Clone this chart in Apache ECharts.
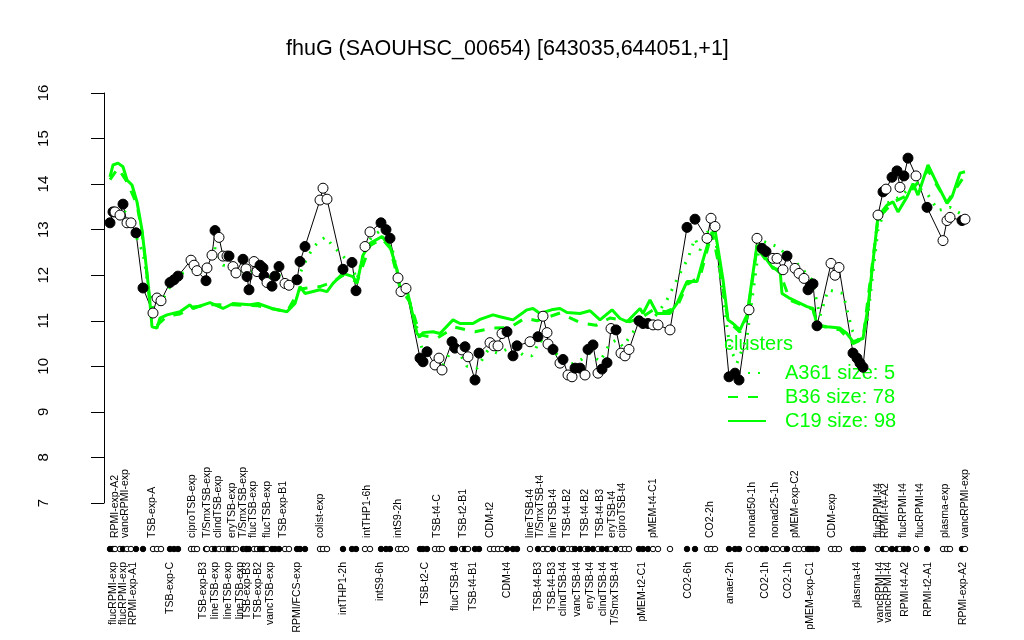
<!DOCTYPE html>
<html><head><meta charset="utf-8">
<script src="https://cdn.jsdelivr.net/npm/echarts@6/dist/echarts.min.js"></script>
<style>html,body{margin:0;padding:0;background:#fff}#c{width:1024px;height:640px}</style>
</head><body><div id="c"></div>
<script>
// sample positions (index units along the x axis), expression values, filled(1)/open(0)
const samplePos = [1.2,1.8,2.2,3.2,3.8,4.6,5.4,6.4,7.8,9.8,
10.6,11.4,13.2,14.0,14.8,17.4,18.0,18.6,20.4,20.6,
21.6,22.2,23.0,23.8,24.6,25.0,25.8,26.4,27.8,28.4,
28.6,29.0,30.0,30.6,31.2,31.8,32.0,32.6,33.6,34.2,
35.0,36.2,37.0,38.6,39.2,40.2,43.2,43.8,44.6,47.8,
49.6,50.4,52.2,53.2,55.4,56.4,57.2,58.8,59.4,60.4,
63.2,63.8,64.6,66.2,67.0,67.6,69.6,70.2,71.6,72.2,
72.8,74.2,75.0,77.2,78.0,78.8,79.6,80.6,81.8,82.6,
85.2,86.8,87.8,88.6,88.8,89.8,91.2,91.8,92.8,93.6,
94.2,95.2,96.2,96.8,97.8,98.8,99.6,100.6,101.4,102.4,
103.4,104.2,105.0,107.0,107.8,108.8,109.8,110.8,113.2,116.6,
118.2,120.6,121.4,122.2,125.0,126.2,127.0,129.0,130.6,131.6,
132.4,133.8,134.6,135.8,136.6,138.2,139.0,140.0,140.8,141.2,
141.8,142.6,145.4,146.2,147.0,149.8,150.6,151.2,151.8,154.8,
155.8,156.4,157.6,158.6,159.2,160.0,160.8,162.4,164.6,167.8,
168.6,169.2,171.6,172.2];
const sampleVal = [13.15,13.39,13.39,13.32,13.56,13.15,13.15,12.93,11.72,11.17,
11.5,11.44,11.84,11.9,11.98,12.33,12.22,12.1,11.88,12.16,
12.44,12.98,12.83,12.42,12.42,12.42,12.19,12.05,12.35,12.14,
11.97,11.68,12.3,12.08,12.22,12.16,11.98,11.84,11.76,11.98,
12.19,11.82,11.78,11.9,12.3,12.63,13.65,13.91,13.67,12.13,
12.28,11.66,12.63,12.95,13.15,13.0,12.81,11.94,11.64,11.71,
10.18,10.1,10.32,10.03,10.18,9.92,10.54,10.4,10.36,10.43,
10.21,9.7,10.29,10.52,10.45,10.45,10.72,10.76,10.23,10.45,
10.54,10.65,11.1,10.74,10.49,10.37,10.07,10.15,9.81,9.77,
9.96,9.96,9.81,10.37,10.47,9.85,9.94,10.08,10.83,10.8,
10.29,10.23,10.37,11.0,10.94,10.94,10.91,10.91,10.8,13.05,
13.23,12.81,13.25,13.07,9.77,9.85,9.7,11.24,12.81,12.59,
12.52,12.37,12.37,12.12,12.42,12.15,12.04,11.93,11.68,11.75,
11.81,10.89,12.26,12.0,12.17,10.29,10.18,10.07,9.98,13.32,
13.83,13.89,14.15,14.29,13.93,14.18,14.57,14.18,13.49,12.76,
13.2,13.27,13.2,13.23];
const sampleFilled = [1,1,0,0,1,0,0,1,1,0,
0,0,1,1,1,0,0,0,1,0,
0,1,0,0,0,1,0,0,1,0,
1,1,0,0,1,1,1,0,1,1,
1,0,0,1,1,1,0,0,0,1,
1,1,0,0,1,1,1,0,0,0,
1,1,1,0,0,0,1,1,0,1,
0,1,1,0,0,0,0,1,1,1,
0,1,0,0,0,1,0,1,0,0,
1,1,0,1,1,0,1,1,0,1,
0,0,0,1,1,1,0,0,0,1,
1,0,0,0,1,1,1,0,0,1,
1,0,0,0,1,0,0,0,1,1,
1,1,0,0,0,1,1,1,1,0,
1,0,1,1,0,1,1,0,1,0,
0,0,1,0];

// cluster profiles
const a361Pos = [1.2,2.2,3.8,5.4,6.6,7.8,8.8,9.8,11.4,13.2,15.8,18.0,19.8,22.2,23.8,25.8,28.4,30.6,32.6,35.0,37.0,38.6,40.6,41.8,43.2,44.4,45.8,47.2,49.6,50.6,52.2,53.6,55.6,57.2,58.8,60.4,62.6,63.8,65.6,67.8,69.2,70.8,72.6,74.6,76.8,78.8,81.8,83.8,85.6,87.2,89.2,91.8,93.2,95.6,97.2,99.2,101.2,102.6,103.8,105.6,106.8,109.2,111.2,112.6,113.8,115.2,116.8,118.2,119.2,120.6,122.2,123.8,125.2,126.6,128.6,131.2,134.6,138.6,141.6,143.2,144.8,147.8,149.6,151.2,152.6,154.8,156.6,159.2,161.8,164.6,166.8,169.2,171.2];
const a361Vals = [13.2,13.35,13.45,13.2,12.8,12.5,11.8,11.25,11.4,11.75,12.05,12.15,12.05,12.6,12.22,12.2,12.05,12.1,11.95,12.0,11.85,11.9,12.37,12.6,12.77,12.84,12.63,12.49,12.2,11.9,12.6,12.85,13.0,12.8,12.0,11.7,10.84,10.3,10.18,10.03,10.29,10.35,10.0,9.96,10.36,10.29,10.43,10.25,10.23,10.58,10.4,10.14,10.03,10.16,10.29,10.1,10.51,10.58,10.43,10.72,10.9,10.95,11.24,11.46,11.73,12.04,12.37,12.81,12.55,12.95,12.9,11.5,10.4,10.07,10.65,12.77,12.63,12.26,11.9,11.1,11.68,11.6,10.8,10.5,10.94,13.0,13.58,13.72,13.98,13.8,13.42,13.49,13.36];
const b36Pos = [1.2,2.8,4.6,6.6,7.6,8.6,9.6,10.6,12.6,15.2,17.8,21.2,25.8,30.8,36.6,39.2,43.2,45.8,47.8,50.6,53.2,55.6,57.2,59.2,61.2,63.2,66.6,70.2,74.2,77.8,81.2,84.2,86.6,91.2,95.2,98.4,101.2,105.2,107.8,109.8,112.4,114.6,116.6,119.2,121.6,123.2,124.8,127.2,128.6,130.6,132.6,135.2,137.2,141.8,142.6,147.2,149.8,151.8,154.8,157.8,160.6,164.8,168.6,172.2];
const b36Vals = [14.1,14.35,14.05,13.55,12.95,12.0,10.95,10.9,11.1,11.15,11.3,11.35,11.35,11.33,11.2,11.7,11.75,11.85,12.0,11.85,12.65,12.8,12.6,11.75,11.4,10.69,10.62,10.86,10.76,10.84,10.85,11.06,11.0,11.17,10.96,10.9,11.06,10.98,11.09,11.24,11.2,11.3,11.8,11.96,12.95,12.1,11.0,10.75,11.05,12.6,12.3,12.05,11.45,11.25,10.9,10.8,10.5,10.6,13.25,13.6,13.75,14.3,13.6,14.2];
const c19Pos = [1.2,1.8,2.8,3.8,4.6,5.6,6.6,7.6,8.6,9.2,9.6,10.6,11.2,12.6,15.2,17.2,17.8,21.2,23.8,25.8,29.2,30.8,33.6,36.6,38.2,39.2,40.2,43.2,44.6,45.8,47.8,49.8,50.6,51.8,53.2,55.6,57.2,58.6,59.2,60.6,62.6,63.2,63.8,65.8,67.2,69.8,71.2,73.8,75.2,77.8,79.2,81.8,84.6,85.8,87.2,89.8,91.2,92.6,95.2,97.2,99.2,101.6,103.2,104.6,107.2,107.8,109.2,110.6,113.2,114.6,116.6,118.6,119.8,121.2,122.2,123.8,124.8,125.8,127.2,128.6,130.6,132.6,133.8,135.2,135.6,137.2,140.6,141.8,142.6,144.6,147.2,148.6,149.8,151.8,152.8,154.8,156.6,157.8,158.8,160.6,161.8,162.8,164.8,166.6,168.6,169.6,171.2,172.2];
const c19Vals = [14.16,14.42,14.46,14.38,14.09,13.98,13.61,12.99,12.05,11.39,10.87,10.84,11.06,11.13,11.2,11.35,11.27,11.4,11.27,11.38,11.35,11.38,11.27,11.2,11.38,11.75,11.6,11.68,11.64,11.82,12.04,11.97,11.82,12.44,12.7,12.85,12.63,12.12,11.68,11.68,10.72,10.65,10.74,10.76,10.72,11.02,10.94,10.94,11.03,11.13,11.09,11.02,11.24,11.27,11.16,11.25,11.27,11.18,11.16,11.22,11.02,11.24,11.05,10.98,11.27,11.16,11.46,11.16,11.16,11.38,11.86,11.86,12.33,12.85,13.0,11.9,11.02,10.94,10.8,11.13,12.66,12.33,12.15,12.12,11.6,11.49,11.31,11.27,10.91,10.87,10.84,10.72,10.54,10.61,11.31,13.29,13.54,13.61,13.39,13.72,14.01,13.76,14.42,14.01,13.58,13.72,14.24,14.27];

// sample labels, upper row and lower row
const labelsTop = ['RPMI-exp-A2','vancRPMI-exp','TSB-exp-A','ciproTSB-exp','T/SmxTSB-exp','clindTSB-exp','eryTSB-exp','T/SmxTSB-exp','flucTSB-exp','flucTSB-exp','TSB-exp-B1','colist-exp','intTHP1-6h','intS9-2h','TSB-t4-C','TSB-t2-B1','CDM-t2','lineTSB-t4','T/SmxTSB-t4','lineTSB-t4','TSB-t4-B2','TSB-t4-B2','TSB-t4-B3','eryTSB-t4','ciproTSB-t4','pMEM-t4-C1','CO2-2h','nonad50-1h','nonad25-1h','pMEM-exp-C2','CDM-exp','flucRPMI-t4','RPMI-t4-A2','flucRPMI-t4','flucRPMI-t4','plasma-exp','vancRPMI-exp'];
const labelsTopPos = [2.2,4.2,9.6,17.6,20.6,22.8,25.6,27.8,29.8,32.6,35.8,43.2,52.6,58.8,66.6,71.8,77.2,85.2,87.2,89.8,92.6,96.2,99.2,101.6,103.6,109.8,121.2,129.6,134.2,138.2,145.6,154.8,156.2,159.8,163.2,168.2,172.2];
const labelsBottom = ['flucRPMI-exp','flucRPMI-exp','RPMI-exp-A1','TSB-exp-C','TSB-exp-B3','lineTSB-exp','lineTSB-exp','lineTSB-exp','TSB-exp-B3','TSB-exp-B2','vancTSB-exp','RPMI/FCS-exp','intTHP1-2h','intS9-6h','TSB-t2-C','flucTSB-t4','TSB-t4-B1','CDM-t4','TSB-t4-B3','TSB-t4-B3','clindTSB-t4','vancTSB-t4','eryTSB-t4','clindTSB-t4','T/SmxTSB-t4','pMEM-t2-C1','CO2-6h','anaer-2h','CO2-1h','CO2-1h','pMEM-exp-C1','plasma-t4','vancRPMI-t4','vancRPMI-t4','RPMI-t4-A2','RPMI-t2-A1','RPMI-exp-A2'];
const labelsBottomPos = [1.8,3.8,5.8,13.2,19.8,22.2,24.8,27.2,28.6,30.8,33.2,38.6,47.8,55.2,64.2,70.2,73.8,80.6,86.8,89.6,91.8,94.6,97.2,99.8,102.2,107.6,116.8,125.2,132.2,136.8,141.2,150.6,155.2,156.8,160.2,164.8,171.8];

const yTicks = [7,16,1]; // min, max, step
const seriesNames = ['A361 size: 5','B36 size: 78','C19 size: 98'];
const titleText = 'fhuG (SAOUHSC_00654) [643035,644051,+1]';

const GREEN = '#00ff00';
const FONT = '"Liberation Sans", Arial, Helvetica, sans-serif';
const zip = (a,b) => a.map((v,i)=>[v,b[i]]);
const pointData = samplePos.map((p,i)=>({value:[p, sampleVal[i]], itemStyle:{color: sampleFilled[i]?'#000':'#fff'}}));
const rowData = samplePos.map((p,i)=>({value:[p,0.5], itemStyle:{color: sampleFilled[i]?'#000':'#fff'}}));
const labelData = labelsTop.map((t,i)=>[labelsTopPos[i],1,t]).concat(labelsBottom.map((t,i)=>[labelsBottomPos[i],0,t]));

const chart = echarts.init(document.getElementById('c'));
chart.setOption({
  animation:false,
  backgroundColor:'#fff',
  title:[
    {text:titleText, left:281, top:33, textStyle:{fontFamily:FONT, fontSize:21.5, fontWeight:'normal', color:'#000'}},
    {text:'clusters', left:719, top:329, textStyle:{fontFamily:FONT, fontSize:20, fontWeight:'normal', color:GREEN}}
  ],
  legend:{orient:'vertical', left:722, top:358, itemWidth:38, itemHeight:14, itemGap:4, selectedMode:false,
    itemStyle:{color:'rgba(0,0,0,0)', borderColor:'rgba(0,0,0,0)', borderWidth:0},
    data:seriesNames, textStyle:{fontFamily:FONT, fontSize:20, color:GREEN, padding:[0,0,0,14]}},
  grid:[{left:77,right:24,top:93,bottom:137},{left:77,right:24,top:539,height:20}],
  xAxis:[{type:'value',min:-5.4,max:179.2,show:false,gridIndex:0},
         {type:'value',min:-5.4,max:179.2,show:false,gridIndex:1}],
  yAxis:[{type:'value',min:yTicks[0],max:yTicks[1],interval:yTicks[2],gridIndex:0,
          axisLine:{show:true,lineStyle:{color:'#000',width:1}},
          axisTick:{show:true,length:13,lineStyle:{color:'#000'}},
          axisLabel:{rotate:90,margin:26,fontSize:15,fontFamily:FONT,color:'#000'},
          splitLine:{show:false}},
         {type:'value',min:0,max:1,show:false,gridIndex:1}],
  series:[
    {type:'line', data:zip(samplePos,sampleVal), symbol:'none', lineStyle:{color:'#000',width:1}, z:2, silent:true},
    {name:seriesNames[0], type:'line', data:zip(a361Pos,a361Vals), symbol:'none', color:GREEN, lineStyle:{color:GREEN,width:3,type:[2,8]}, z:3, silent:true},
    {name:seriesNames[1], type:'line', data:zip(b36Pos,b36Vals), symbol:'none', color:GREEN, lineStyle:{color:GREEN,width:3,type:[10,10]}, z:3, silent:true},
    {name:seriesNames[2], type:'line', data:zip(c19Pos,c19Vals), symbol:'none', color:GREEN, lineStyle:{color:GREEN,width:3}, z:3, silent:true},
    {type:'scatter', data:pointData, symbol:'circle', symbolSize:10, itemStyle:{borderColor:'#000',borderWidth:1,opacity:1}, z:5, silent:true},
    {type:'scatter', xAxisIndex:1, yAxisIndex:1, data:rowData, symbol:'circle', symbolSize:5.5, itemStyle:{borderColor:'#000',borderWidth:1,opacity:1}, silent:true},
    {type:'custom', xAxisIndex:1, yAxisIndex:1, data:labelData.map(d=>[d[0],d[1]]), clip:false, silent:true,
      renderItem:function(params, api){
        const p = api.coord([api.value(0), 0.5]);
        const top = api.value(1) === 1;
        return {type:'text', x:p[0], y: top ? p[1]-11 : p[1]+13, rotation:Math.PI/2,
          style:{text:labelData[params.dataIndex][2], align: top?'left':'right', verticalAlign:'middle',
                 fontSize:10.5, fontFamily:FONT, fill:'#000'}};
      }}
  ]
});
</script></body></html>
